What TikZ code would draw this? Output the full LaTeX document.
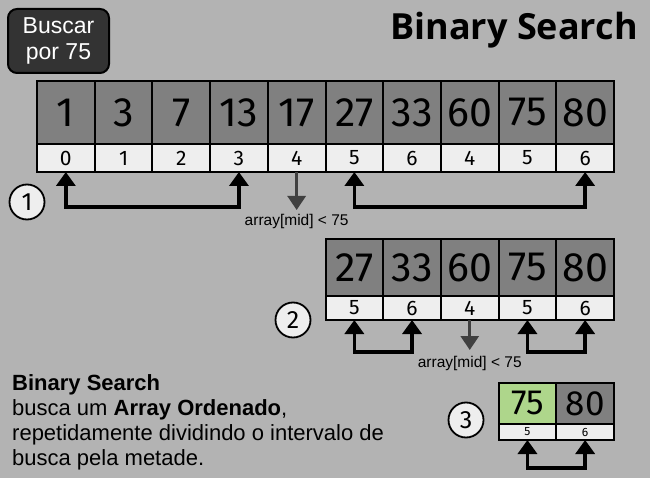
\documentclass[tikz,border=0pt]{standalone}
\usepackage{fontspec}
\usepackage{xcolor}
\usepackage{tikz}
\usetikzlibrary{arrows.meta, positioning}
\setmainfont{Liberation Sans}
\newfontfamily\numfont{Fira Sans}
\newfontfamily\titlefont{Open Sans}
\definecolor{bsback}{RGB}{179,179,179}
\definecolor{bscell}{RGB}{128,128,128}
\definecolor{bsidx}{RGB}{238,238,238}
\definecolor{bsfound}{RGB}{174,214,139}
\definecolor{bsdark}{RGB}{51,51,51}
\definecolor{bsmid}{RGB}{64,64,64}

\begin{document}
\begin{tikzpicture}[
  x=1pt, y=-1pt,
  cell/.style={rectangle, draw=black, line width=2pt, fill=bscell,
               inner sep=0pt, outer sep=0pt, minimum width=57.7pt},
  valA/.style={cell, minimum height=63pt, font=\numfont\fontsize{41}{41}\selectfont},
  idxA/.style={cell, fill=bsidx, minimum height=28pt, font=\numfont\fontsize{21}{21}\selectfont},
  valB/.style={cell, minimum height=57pt, font=\numfont\fontsize{41}{41}\selectfont},
  idxB/.style={cell, fill=bsidx, minimum height=24pt, font=\numfont\fontsize{21}{21}\selectfont},
  valC/.style={cell, minimum height=41pt, font=\numfont\fontsize{35}{35}\selectfont},
  idxC/.style={cell, fill=bsidx, minimum height=16pt, font=\numfont\fontsize{12}{12}\selectfont},
  found/.style={fill=bsfound},
  stage/.style={circle, draw=black, line width=1.8pt, fill=bsidx, minimum size=35pt,
                inner sep=0pt, font=\numfont\fontsize{25}{25}\selectfont},
  brk/.style={arrows={Triangle[length=14pt,width=19pt]-Triangle[length=14pt,width=19pt]},
              line width=3.5pt, color=black},
  midarr/.style={-{Triangle[length=14pt,width=18pt]}, line width=3pt, color=bsmid},
  midlbl/.style={font=\fontsize{15.5}{16}\selectfont, inner sep=0pt},
  goalbox/.style={rectangle, rounded corners=9pt, draw=black, line width=2pt, fill=bsdark,
                  text=white, align=center, minimum width=101pt, minimum height=64pt,
                  font=\fontsize{23}{26}\selectfont},
]
\fill[bsback] (0,0) rectangle (650,478);
\useasboundingbox (0,0) rectangle (650,478);

\node[goalbox] (goal) at (58.5,41) {Buscar\\por 75};
\node[anchor=base east, inner sep=0pt, font=\titlefont\bfseries\fontsize{36}{36}\selectfont]
  (ttl) at (638,40) {Binary Search};

% first array
\node[valA] (a0) at (65.85,112.5) {1};
\node[valA, right=0pt of a0] (a1) {3};
\node[valA, right=0pt of a1] (a2) {7};
\node[valA, right=0pt of a2] (a3) {13};
\node[valA, right=0pt of a3] (a4) {17};
\node[valA, right=0pt of a4] (a5) {27};
\node[valA, right=0pt of a5] (a6) {33};
\node[valA, right=0pt of a6] (a7) {60};
\node[valA, right=0pt of a7] (a8) {75};
\node[valA, right=0pt of a8] (a9) {80};
\node[idxA, below=0pt of a0] (i0) {0};
\node[idxA, below=0pt of a1] (i1) {1};
\node[idxA, below=0pt of a2] (i2) {2};
\node[idxA, below=0pt of a3] (i3) {3};
\node[idxA, below=0pt of a4] (i4) {4};
\node[idxA, below=0pt of a5] (i5) {5};
\node[idxA, below=0pt of a6] (i6) {6};
\node[idxA, below=0pt of a7] (i7) {4};
\node[idxA, below=0pt of a8] (i8) {5};
\node[idxA, below=0pt of a9] (i9) {6};
\node[stage] (s1) at (27,202) {1};

\draw[brk] (i0.south) -- ++(0,35) -| (i3.south);
\draw[brk] (i5.south) -- ++(0,35) -| (i9.south);
\draw[midarr] (i4.south) -- ++(0,38) coordinate (m1);
\node[midlbl, anchor=north] (l1) at ([yshift=-4pt]m1) {array[mid] < 75};

% second array
\node[valB] (b0) at (354.35,267.5) {27};
\node[valB, right=0pt of b0] (b1) {33};
\node[valB, right=0pt of b1] (b2) {60};
\node[valB, right=0pt of b2] (b3) {75};
\node[valB, right=0pt of b3] (b4) {80};
\node[idxB, below=0pt of b0] (j0) {5};
\node[idxB, below=0pt of b1] (j1) {6};
\node[idxB, below=0pt of b2] (j2) {4};
\node[idxB, below=0pt of b3] (j3) {5};
\node[idxB, below=0pt of b4] (j4) {6};
\node[stage] (s2) at (293,320) {2};

\draw[brk] (j0.south) -- ++(0,32) -| (j1.south);
\draw[brk] (j3.south) -- ++(0,32) -| (j4.south);
\draw[midarr] (j2.south) -- ++(0,30) coordinate (m2);
\node[midlbl, anchor=north] (l2) at ([yshift=-6pt]m2) {array[mid] < 75};

% third array
\node[valC, found] (c0) at (527.45,403.5) {75};
\node[valC, right=0pt of c0] (c1) {80};
\node[idxC, below=0pt of c0] (k0) {5};
\node[idxC, below=0pt of c1] (k1) {6};
\node[stage] (s3) at (466,420) {3};

\draw[brk] (k0.south) -- ++(0,28) -| (k1.south);

\node[anchor=north west, inner sep=0pt, align=left, font=\fontsize{22}{25}\selectfont]
  (info) at (12,374) {\textbf{Binary Search}\\
  busca um \textbf{Array Ordenado},\\
  repetidamente dividindo o intervalo de\\
  busca pela metade.};
\end{tikzpicture}
\end{document}
